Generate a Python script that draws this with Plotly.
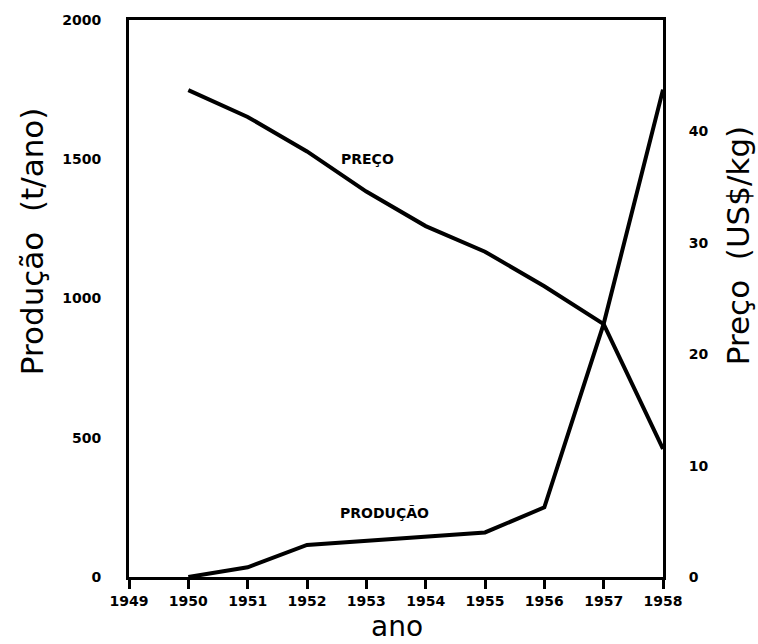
import plotly.graph_objects as go

anos = [1950, 1951, 1952, 1953, 1954, 1955, 1956, 1957, 1958]
producao = [0, 35, 115, 130, 145, 160, 250, 909, 1750]
preco = [43.7, 41.3, 38.2, 34.6, 31.5, 29.2, 26.1, 22.7, 11.5]
x_ticks = list(range(1949, 1959))
y_left_ticks = [0, 500, 1000, 1500, 2000]
y_right_ticks = [0, 10, 20, 30, 40]

tick_font = dict(family="DejaVu Sans", size=14, color="black", weight="bold")
title_font = dict(family="DejaVu Sans", size=31, color="black")
ano_font = dict(family="DejaVu Sans", size=28, color="black")
label_font = dict(family="DejaVu Sans", size=14, color="black", weight="bold")

L, R, T, B = 129, 95, 18, 67
W, H = 758, 644

fig = go.Figure()
fig.add_trace(go.Scatter(x=anos, y=producao, mode="lines",
                         line=dict(color="black", width=4), yaxis="y", showlegend=False))
fig.add_trace(go.Scatter(x=anos, y=preco, mode="lines",
                         line=dict(color="black", width=4), yaxis="y2", showlegend=False))


def px(x, y):
    return (x - L) / (W - L - R), (H - B - y) / (H - T - B)


annots = [
    ("Produção  (t/ano)", 32, 240, -90, title_font),
    ("Preço  (US$/kg)", 738, 245, -90, title_font),
    ("ano", 397, 627, 0, ano_font),
    ("PREÇO", 367, 157, 0, label_font),
    ("PRODUÇÃO", 384, 513, 0, label_font),
]

fig.update_layout(
    width=W, height=H,
    margin=dict(l=L, r=R, t=T, b=B),
    paper_bgcolor="white", plot_bgcolor="white",
    xaxis=dict(range=[1949, 1958], tickvals=x_ticks, ticktext=[str(v) for v in x_ticks],
               showgrid=False, zeroline=False, showline=True, linecolor="black", linewidth=3,
               mirror=True, ticks="outside", ticklen=9, tickwidth=2.5, tickcolor="black",
               tickfont=tick_font),
    yaxis=dict(range=[0, 2000], tickvals=y_left_ticks, showgrid=False, zeroline=False,
               showline=True, linecolor="black", linewidth=3, mirror=True,
               ticks="outside", ticklen=22, tickcolor="rgba(0,0,0,0)", tickfont=tick_font),
    yaxis2=dict(range=[0, 50], tickvals=y_right_ticks, overlaying="y", side="right",
                showgrid=False, zeroline=False, showline=False,
                ticks="outside", ticklen=22, tickcolor="rgba(0,0,0,0)", tickfont=tick_font),
    annotations=[
        dict(text=t, x=px(x, y)[0], y=px(x, y)[1], xref="paper", yref="paper",
             xanchor="center", yanchor="middle", showarrow=False, textangle=a, font=f)
        for t, x, y, a, f in annots
    ],
)

fig.write_html("out.html")
